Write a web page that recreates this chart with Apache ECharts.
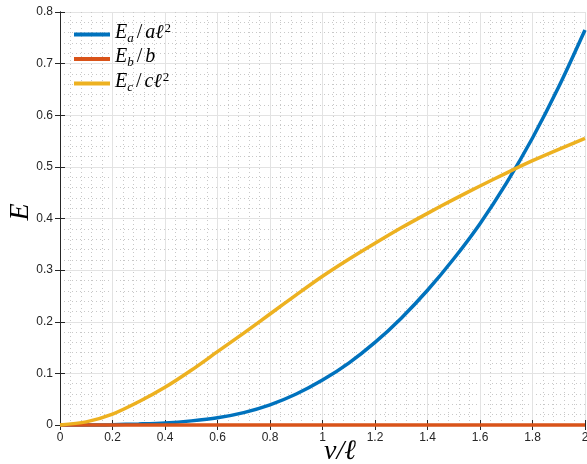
<!DOCTYPE html>
<html>
<head>
<meta charset="utf-8">
<script src="https://cdn.jsdelivr.net/npm/echarts@6/dist/echarts.min.js"></script>
<style>
  html, body {margin: 0; padding: 0; background: #fff;}
  #chart {width: 587px; height: 464px;}
</style>
</head>
<body>
<div id="chart"></div>
<script>
// v/l samples and the three normalised energies
const xs = [0, 0.1, 0.2, 0.3, 0.4, 0.5, 0.6, 0.7, 0.8, 0.9, 1.0,
            1.1, 1.2, 1.3, 1.4, 1.5, 1.6, 1.7, 1.8, 1.9, 2.0]
const energyA = [0, 0, 0.0006, 0.002, 0.004, 0.008, 0.014, 0.024, 0.039, 0.060, 0.087,
                 0.120, 0.160, 0.207, 0.261, 0.322, 0.390, 0.468, 0.556, 0.655, 0.765]
const energyB = [0, 0, 0, 0, 0, 0, 0, 0, 0, 0, 0,
                 0, 0, 0, 0, 0, 0, 0, 0, 0, 0]
const energyC = [0, 0.006, 0.021, 0.045, 0.073, 0.106, 0.142, 0.178, 0.215, 0.252, 0.288,
                 0.321, 0.352, 0.382, 0.410, 0.437, 0.463, 0.488, 0.512, 0.534, 0.555]

const seriesNames = ["Ea", "Eb", "Ec"]
const legendLabels = {
  Ea: "{m|E}{sub|a}{op|/}{m|aℓ}{sup|2}",
  Eb: "{m|E}{sub|b}{op|/}{m|b}",
  Ec: "{m|E}{sub|c}{op|/}{m|cℓ}{sup|2}",
}

const SERIF = "'Liberation Serif', 'DejaVu Serif', serif"
const SANS = "'Liberation Sans', Arial, sans-serif"
const AXIS_COLOR = "#262626"

function pairs(ys) {
  return xs.map((x, i) => [x, ys[i]])
}

function lineSeries(name, ys, color) {
  return {
    name,
    type: "line",
    data: pairs(ys),
    smooth: 0.3,
    symbol: "none",
    clip: false,
    lineStyle: {color, width: 3.5},
    itemStyle: {color},
  }
}

const mathText = {fontFamily: SERIF, fontStyle: "italic", color: "#000"}

const chart = echarts.init(document.getElementById("chart"), null, {renderer: "canvas"})

chart.setOption({
  backgroundColor: "#fff",
  animation: false,
  grid: {left: 60, right: 2, top: 12, bottom: 39, outerBoundsMode: "none", containLabel: false},
  graphic: [
    {
      type: "text",
      x: 340,
      y: 452,
      style: {...mathText, text: "v/ℓ", fontSize: 28, align: "center", verticalAlign: "middle"},
    },
    {
      type: "text",
      x: 21,
      y: 212,
      rotation: Math.PI / 2,
      style: {...mathText, text: "E", fontSize: 28, align: "center", verticalAlign: "middle"},
    },
  ],
  legend: {
    data: seriesNames.map(name => ({name, icon: "rect"})),
    orient: "vertical",
    left: 74,
    top: 22,
    padding: 0,
    itemWidth: 36,
    itemHeight: 4,
    itemGap: 0,
    formatter: name => legendLabels[name],
    textStyle: {
      padding: [0, 0, 0, 0],
      rich: {
        m: {...mathText, fontSize: 20, lineHeight: 17, padding: [0, 0, 4, 0]},
        op: {...mathText, fontStyle: "normal", fontSize: 20, lineHeight: 17, padding: [0, 3, 4, 3]},
        sub: {...mathText, fontSize: 13, lineHeight: 13, padding: [8, 0, 0, 0]},
        sup: {...mathText, fontStyle: "normal", fontSize: 13, lineHeight: 9, padding: [0, 0, 12, 1]},
      },
    },
  },
  xAxis: [
    {
      type: "value",
      min: 0,
      max: 2,
      interval: 0.2,
      axisLine: {lineStyle: {color: AXIS_COLOR, width: 1}},
      axisTick: {inside: true, length: 5, lineStyle: {color: AXIS_COLOR}},
      axisLabel: {fontFamily: SANS, fontSize: 12, color: AXIS_COLOR, margin: 7},
      splitLine: {lineStyle: {color: "#e3e3e3", width: 1}},
      minorTick: {show: false, splitNumber: 5},
      minorSplitLine: {show: true, lineStyle: {color: "#c8c8c8", width: 1, type: [1, 3]}},
    },
    {
      type: "value",
      position: "top",
      min: 0,
      max: 2,
      interval: 0.2,
      axisLine: {show: true, lineStyle: {color: AXIS_COLOR, width: 1}},
      axisTick: {inside: true, length: 5, lineStyle: {color: AXIS_COLOR}},
      axisLabel: {show: false},
      splitLine: {show: false},
    },
  ],
  yAxis: [
    {
      type: "value",
      min: 0,
      max: 0.8,
      interval: 0.1,
      axisLine: {show: true, lineStyle: {color: AXIS_COLOR, width: 1}},
      axisTick: {show: true, inside: true, length: 5, lineStyle: {color: AXIS_COLOR}},
      axisLabel: {fontFamily: SANS, fontSize: 12, color: AXIS_COLOR, margin: 7},
      splitLine: {lineStyle: {color: "#e3e3e3", width: 1}},
      minorTick: {show: false, splitNumber: 5},
      minorSplitLine: {show: true, lineStyle: {color: "#c8c8c8", width: 1, type: [1, 3]}},
    },
    {
      type: "value",
      position: "right",
      min: 0,
      max: 0.8,
      interval: 0.1,
      axisLine: {show: true, lineStyle: {color: AXIS_COLOR, width: 1}},
      axisTick: {show: true, inside: true, length: 5, lineStyle: {color: AXIS_COLOR}},
      axisLabel: {show: false},
      splitLine: {show: false},
    },
  ],
  series: [
    lineSeries("Ea", energyA, "#0072BD"),
    lineSeries("Eb", energyB, "#D95319"),
    lineSeries("Ec", energyC, "#EDB120"),
  ],
})
</script>
</body>
</html>
